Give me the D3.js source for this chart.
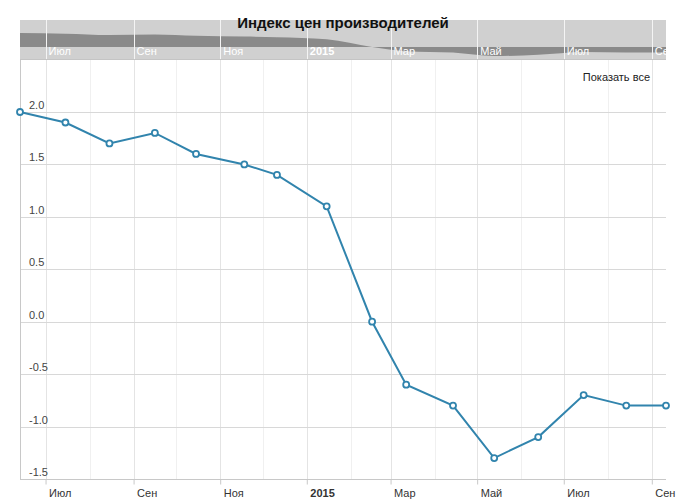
<!DOCTYPE html>
<html>
<head>
<meta charset="utf-8">
<script src="https://cdn.jsdelivr.net/npm/d3@7"></script>
<style>
  body { margin: 0; background: #fff; }
  svg { font-family: "Liberation Sans", Arial, sans-serif; }
</style>
</head>
<body>
<div id="chart"></div>
<script>
const W = 686, H = 500;

// data
const dates = ["2014-06-13", "2014-07-15", "2014-08-15", "2014-09-16", "2014-10-15",
    "2014-11-18", "2014-12-11", "2015-01-15", "2015-02-16", "2015-03-12",
    "2015-04-14", "2015-05-13", "2015-06-13", "2015-07-15", "2015-08-14", "2015-09-11"];
const values = [2.0, 1.9, 1.7, 1.8, 1.6, 1.5, 1.4, 1.1, 0.0, -0.6, -0.8, -1.3, -1.1, -0.7, -0.8, -0.8];
const yTicks = [2.0, 1.5, 1.0, 0.5, 0.0, -0.5, -1.0, -1.5];
const monthNames = ["Янв", "Фев", "Мар", "Апр", "Май", "Июн", "Июл", "Авг", "Сен", "Окт", "Ноя", "Дек"];
const title = "Индекс цен производителей";
const resetLabel = "Показать все";

const parse = d3.timeParse("%Y-%m-%d");
const data = dates.map((d, i) => ({date: parse(d), value: values[i]}));

const plot = {left: 20, right: 666, top: 60, bottom: 479};
const nav = {top: 20, bottom: 60};

const svg = d3.select("#chart").append("svg")
    .attr("width", W)
    .attr("height", H);

const x = d3.scaleTime()
    .domain(d3.extent(data, d => d.date))
    .range([plot.left, plot.right]);

const y = d3.scaleLinear()
    .domain([-1.5, 2.0])
    .range([plot.bottom, 112]);

const yNav = d3.scaleLinear()
    .domain([-1.5, 2.0])
    .range([57.5, 33]);

const allMonths = d3.timeMonth.range(d3.timeMonth.ceil(x.domain()[0]), x.domain()[1]);
const majorMonths = allMonths.filter(d => d.getMonth() % 2 === 0);
const minorMonths = allMonths.filter(d => d.getMonth() % 2 === 1);

function monthLabel(d) {
    return d.getMonth() === 0 ? String(d.getFullYear()) : monthNames[d.getMonth()];
}

// grid
let grid = svg.append("g").attr("id", "grid");
grid.selectAll(".minor")
    .data(minorMonths)
    .enter()
    .append("line")
    .attr("x1", d => Math.round(x(d)) + 0.5)
    .attr("x2", d => Math.round(x(d)) + 0.5)
    .attr("y1", plot.top)
    .attr("y2", plot.bottom)
    .style("stroke", "#f0f0f0");
grid.selectAll(".major")
    .data(majorMonths)
    .enter()
    .append("line")
    .attr("x1", d => Math.round(x(d)) + 0.5)
    .attr("x2", d => Math.round(x(d)) + 0.5)
    .attr("y1", plot.top)
    .attr("y2", plot.bottom)
    .style("stroke", "#e4e4e4");
grid.selectAll(".hline")
    .data(yTicks)
    .enter()
    .append("line")
    .attr("x1", plot.left)
    .attr("x2", plot.right)
    .attr("y1", d => Math.round(y(d)) + 0.5)
    .attr("y2", d => Math.round(y(d)) + 0.5)
    .style("stroke", "#d8d8d8");

// y labels inside the plot
svg.append("g")
    .selectAll("text")
    .data(yTicks)
    .enter()
    .append("text")
    .attr("x", 29)
    .attr("y", d => y(d) - 3)
    .style("font-size", "11px")
    .style("fill", "#444")
    .text(d => d3.format(".1f")(d).replace("−", "-"));

// axes lines
svg.append("line")
    .attr("x1", plot.left + 0.5).attr("x2", plot.left + 0.5)
    .attr("y1", plot.top).attr("y2", plot.bottom)
    .style("stroke", "#c8c8c8");

let xAxis = svg.append("g")
    .attr("transform", `translate(0, ${plot.bottom + 0.5})`)
    .call(d3.axisBottom(x).tickValues(majorMonths).tickSize(5).tickFormat(monthLabel));
xAxis.select(".domain")
    .attr("d", `M${plot.left},0H${plot.right}`)
    .style("stroke", "#c8c8c8");
xAxis.selectAll(".tick line").style("stroke", "#c8c8c8");
xAxis.selectAll(".tick text")
    .attr("text-anchor", "start")
    .attr("x", 3)
    .attr("y", 10)
    .style("font-size", "11px")
    .style("fill", "#333")
    .style("font-family", "Liberation Sans, Arial, sans-serif")
    .style("font-weight", d => d.getMonth() === 0 ? "bold" : "normal");

// navigator
let gnav = svg.append("g").attr("id", "navigator");
gnav.append("rect")
    .attr("x", plot.left)
    .attr("y", nav.top)
    .attr("width", plot.right - plot.left)
    .attr("height", nav.bottom - nav.top)
    .style("fill", "#d0d0d0");
gnav.append("path")
    .datum(data)
    .attr("d", d3.area()
        .curve(d3.curveMonotoneX)
        .x(d => x(d.date))
        .y0(yNav(0))
        .y1(d => yNav(d.value)))
    .style("fill", "#8a8a8a");
gnav.selectAll(".navline")
    .data(majorMonths)
    .enter()
    .append("line")
    .attr("x1", d => Math.round(x(d)) + 0.5)
    .attr("x2", d => Math.round(x(d)) + 0.5)
    .attr("y1", nav.top)
    .attr("y2", nav.bottom)
    .style("stroke", "#f4f4f4");
gnav.selectAll(".navlabel")
    .data(majorMonths)
    .enter()
    .append("text")
    .attr("x", d => x(d) + 3)
    .attr("y", 55)
    .style("font-size", "11px")
    .style("fill", "#fff")
    .style("font-weight", d => d.getMonth() === 0 ? "bold" : "normal")
    .text(monthLabel);
gnav.append("line")
    .attr("x1", plot.left).attr("x2", plot.right)
    .attr("y1", nav.bottom - 0.5).attr("y2", nav.bottom - 0.5)
    .style("stroke", "#c4c4c4");

// title
svg.append("text")
    .attr("x", W / 2)
    .attr("y", 28)
    .attr("text-anchor", "middle")
    .style("font-size", "15px")
    .style("font-weight", "bold")
    .style("fill", "#111")
    .text(title);

svg.append("text")
    .attr("x", 650)
    .attr("y", 81)
    .attr("text-anchor", "end")
    .style("font-size", "11px")
    .style("fill", "#222")
    .text(resetLabel);

// series
svg.append("path")
    .datum(data)
    .attr("d", d3.line().x(d => x(d.date)).y(d => y(d.value)))
    .style("fill", "none")
    .style("stroke", "#3184ad")
    .style("stroke-width", 2);
svg.append("g")
    .selectAll("circle")
    .data(data)
    .enter()
    .append("circle")
    .attr("cx", d => x(d.date))
    .attr("cy", d => y(d.value))
    .attr("r", 3)
    .style("fill", "#fff")
    .style("stroke", "#3184ad")
    .style("stroke-width", 1.8);
</script>
</body>
</html>
